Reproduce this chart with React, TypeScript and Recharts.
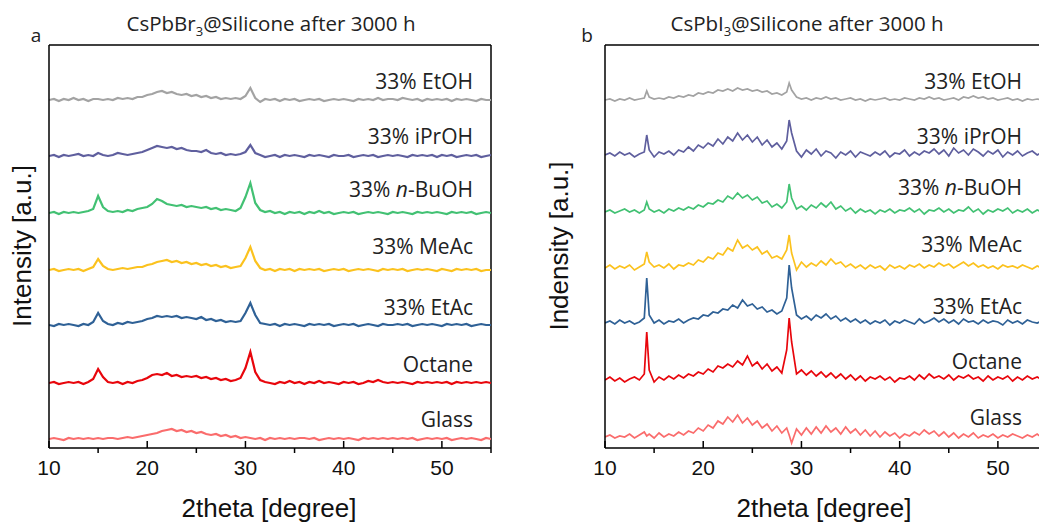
import React from 'react';
import { LineChart, Line, XAxis, YAxis, ReferenceLine } from 'recharts';

// ---------- categories ----------
const X_A = [
  10, 10.5, 11, 11.5, 12, 12.5, 13, 13.5, 14, 14.5,
  15, 15.5, 16, 16.5, 17, 17.5, 18, 18.5, 19, 19.5,
  20, 20.5, 21, 21.5, 22, 22.5, 23, 23.5, 24, 24.5,
  25, 25.5, 26, 26.5, 27, 27.5, 28, 28.5, 29, 29.5,
  30, 30.5, 31, 31.5, 32, 32.5, 33, 33.5, 34, 34.5,
  35, 35.5, 36, 36.5, 37, 37.5, 38, 38.5, 39, 39.5,
  40, 40.5, 41, 41.5, 42, 42.5, 43, 43.5, 44, 44.5,
  45, 45.5, 46, 46.5, 47, 47.5, 48, 48.5, 49, 49.5,
  50, 50.5, 51, 51.5, 52, 52.5, 53, 53.5, 54, 54.5, 55,
];

const X_B = [
  10, 10.5, 11, 11.5, 12, 12.5, 13, 13.5, 14,
  14.25,
  14.5, 15, 15.5, 16, 16.5, 17, 17.5, 18, 18.5, 19, 19.5, 20, 20.5, 21, 21.5,
  22, 22.5, 23, 23.5, 24, 24.5, 25, 25.5, 26, 26.5, 27, 27.5, 28, 28.5,
  28.75,
  29, 29.5, 30, 30.5, 31, 31.5, 32, 32.5, 33, 33.5,
  34, 34.5, 35, 35.5, 36, 36.5, 37, 37.5, 38, 38.5,
  39, 39.5, 40, 40.5, 41, 41.5, 42, 42.5, 43, 43.5,
  44, 44.5, 45, 45.5, 46, 46.5, 47, 47.5, 48, 48.5,
  49, 49.5, 50, 50.5, 51, 51.5, 52, 52.5, 53, 53.5,
  54, 54.5, 55,
];

const X_TICKS = [10, 15, 20, 25, 30, 35, 40, 45, 50, 55];
const X_TICK_LABELS = [10, 20, 30, 40, 50];

const SERIES_NAMES = ['33% EtOH', '33% iPrOH', '33% n-BuOH', '33% MeAc', '33% EtAc', 'Octane', 'Glass'];
const SERIES_COLORS = ['#a3a3a3', '#5f5f9e', '#42c173', '#fbc21e', '#2f6196', '#e8060c', '#fa6c6c'];

// ---------- panel a : CsPbBr3 (intensity above each baseline) ----------
const A_ETOH = [
  0, 1, -1, 1, 0, 2, 0, 1, -1, 1,
  1, 0, 1, 0, 2, 1, 2, 1, 3, 3,
  5, 6, 8, 9, 7, 8, 6, 5, 6, 4,
  5, 3, 4, 2, 3, 1, 2, 1, 2, 1,
  4, 12, 2, -2, 1, 0, 1, -1, 1, 0,
  1, -1, 0, 1, 0, 1, -1, 0, 1, 0,
  1, 0, -1, 1, 0, 1, 0, 2, 0, 1,
  1, 0, 2, 1, 0, 1, -1, 1, 0, 1,
  0, 1, -1, 1, 0, 1, 0, -1, 1, 0, 0,
];
const A_IPROH = [
  0, 1, -1, 1, 0, 1, 2, 0, 1, 0,
  3, 1, 0, 1, 3, 2, 1, 2, 3, 4,
  6, 8, 10, 9, 8, 9, 7, 8, 6, 5,
  5, 4, 6, 3, 2, 3, 1, 2, 1, 2,
  4, 11, 3, 1, -1, 0, 1, -1, 1, 0,
  1, 0, -1, 1, 0, 1, 0, -1, 1, 0,
  0, 1, -1, 0, 1, 0, 1, -1, 0, 1,
  0, 1, 0, -1, 1, 0, 1, 0, 1, -1,
  1, 0, 1, -1, 0, 1, 0, 1, -1, 0, 1,
];
const A_BUOH = [
  0, 1, -1, 1, 0, 1, 0, 1, 2, 4,
  17, 6, 2, 1, 2, 1, 3, 2, 4, 5,
  6, 9, 14, 12, 9, 8, 7, 8, 6, 7,
  6, 5, 6, 4, 5, 3, 4, 3, 2, 5,
  16, 30, 10, 3, 1, 2, 0, 1, -1, 1,
  0, 1, -1, 1, 0, 2, 0, 1, -1, 0,
  1, 0, 1, -1, 0, 1, 0, 1, 0, -1,
  1, 0, 1, 0, -1, 1, 0, 1, 0, 1,
  0, -1, 1, 0, 1, 0, 1, -1, 0, 1, 0,
];
const A_MEAC = [
  0, 1, -1, 0, 1, 0, 1, -1, 1, 3,
  11, 4, 1, 0, 1, 2, 1, 2, 3, 3,
  5, 6, 8, 9, 10, 8, 9, 7, 8, 6,
  7, 5, 6, 4, 5, 3, 4, 2, 3, 4,
  12, 23, 9, 2, 0, 1, -1, 1, 0, 1,
  -1, 1, 0, 1, 0, 1, -1, 0, 1, 0,
  1, -1, 0, 1, 0, 1, 0, -1, 1, 0,
  1, 0, 1, -1, 0, 1, 0, 1, 0, -1,
  1, 0, -1, 1, 0, 1, 0, 1, -1, 0, 0,
];
const A_ETAC = [
  0, -1, 1, 0, 1, 0, -1, 1, 0, 3,
  12, 4, 1, 0, 2, 1, 3, 2, 3, 4,
  6, 7, 9, 8, 9, 8, 9, 7, 8, 7,
  6, 8, 5, 6, 4, 5, 3, 4, 3, 4,
  12, 22, 10, 2, 1, 0, 1, -1, 1, 0,
  1, 0, -1, 1, 0, 1, 0, 1, -1, 0,
  1, 0, 1, -1, 0, 1, 0, -1, 1, 0,
  0, 1, 0, 1, -1, 0, 1, 0, 1, 0,
  -1, 1, 0, 1, 0, 1, -1, 0, 1, 0, 0,
];
const A_OCTANE = [
  0, 1, -1, 0, 1, 0, 1, -1, 1, 4,
  14, 6, 1, 0, 1, -1, 1, 0, 2, 3,
  5, 8, 9, 8, 10, 7, 8, 6, 7, 6,
  7, 5, 6, 4, 5, 3, 4, 2, 3, 5,
  15, 31, 11, 3, 1, 0, -1, 1, 0, 2,
  0, 1, -1, 1, 0, 2, 0, 1, 0, -1,
  1, 0, 1, -1, 0, 2, 1, 3, 1, 0,
  1, 0, 1, 0, -1, 1, 0, 1, 0, 1,
  0, 1, -1, 1, 0, 1, 0, 1, 0, 1, 0,
];
const A_GLASS = [
  0, 1, 0, -1, 1, 0, 1, 0, 1, 0,
  1, 0, 1, 1, 0, 1, 2, 1, 2, 3,
  4, 5, 6, 8, 9, 10, 8, 9, 7, 8,
  6, 7, 5, 4, 5, 3, 4, 2, 3, 1,
  2, 1, 0, 1, -1, 1, 0, 1, 0, 1,
  0, 1, 1, 0, 1, -1, 0, 1, 0, 1,
  0, 1, 0, -1, 1, 0, 1, 0, 1, 0,
  1, 0, 1, 0, 1, -1, 0, 1, 0, 1,
  0, 1, -1, 0, 1, 0, 1, 0, -1, 1, 0,
];

// ---------- panel b : CsPbI3 ----------
const B_ETOH = [
  0, 1, -1, 1, 0, 2, 0, 1, 2,
  9,
  3, 1, 2, 1, 3, 2, 4, 3, 5, 4, 7, 6, 8, 7, 10, 9, 11, 9, 12, 10, 11, 9, 10, 8, 9, 6, 7, 5, 8,
  17,
  10, 3, 1, 2, 0, 2, 1, 3, 1, 2,
  0, 1, 2, 0, 1, -1, 1, 0, 1, 2,
  0, 1, 0, 2, 1, 0, 2, 1, 3, 1,
  2, 0, 1, 2, 0, 3, 2, 4, 2, 3,
  1, 2, 0, 1, 2, 0, 1, -1, 1, 0,
  1, 0, 1,
];
const B_IPROH = [
  0, 2, -1, 3, 0, 2, -2, 1, 3,
  20,
  5, -2, 3, 1, 4, 0, 5, 3, 8, 4, 10, 7, 12, 9, 16, 11, 18, 14, 22, 15, 20, 13, 18, 10, 15, 8, 12, 6, 14,
  35,
  22, 4, -2, 5, 1, 6, -1, 4, 2, -3,
  3, 0, 4, -2, 3, 1, -1, 3, 0, 4,
  -2, 2, 1, 5, -1, 3, 0, 4, 2, 6,
  1, 5, -1, 7, 2, 5, 0, 6, 3, -1,
  4, 1, 5, -2, 3, 0, 4, -1, 2, 4,
  0, 3, 1,
];
const B_BUOH = [
  0, 2, -1, 1, 3, 0, 2, -1, 2,
  10,
  3, 0, 2, -1, 3, 1, 4, 2, 5, 3, 7, 5, 9, 8, 12, 10, 16, 13, 19, 14, 17, 12, 15, 9, 11, 5, 8, 4, 10,
  28,
  14, 3, 6, 2, 7, 4, 9, 5, 10, 3,
  6, 1, 4, -1, 3, 0, 2, -2, 2, 0,
  3, -1, 2, 1, 4, 0, 3, -2, 2, 1,
  4, 0, 3, -1, 2, 1, 5, 0, 3, -2,
  2, 0, 3, 1, 4, -1, 2, 0, 3, -1,
  2, 0, 1,
];
const B_MEAC = [
  0, 3, -1, 2, 0, 3, -2, 1, 4,
  16,
  6, 1, 3, 0, 4, -1, 3, 2, 5, 3, 8, 6, 11, 9, 15, 13, 20, 17, 28, 20, 23, 18, 21, 14, 17, 10, 12, 9, 18,
  33,
  15, -2, 6, 1, 5, 2, 7, 3, 9, 4,
  6, 1, 4, 0, 3, -1, 3, 0, 2, -2,
  3, 0, 2, -1, 3, 1, 4, 0, 3, 1,
  5, 2, 4, 0, 3, 6, 2, 5, 1, 3,
  0, 2, -1, 3, 1, 2, 0, 3, 1, -1,
  2, 0, 1,
];
const B_ETAC = [
  0, 2, -1, 3, 0, 2, -1, 1, 5,
  45,
  8, 0, 3, -1, 2, 1, 4, 0, 3, 5, 4, 8, 7, 11, 10, 14, 13, 18, 15, 23, 17, 19, 14, 16, 11, 13, 9, 12, 25,
  58,
  35, 8, 4, 7, 3, 8, 5, 9, 4, 7,
  2, 5, 1, 4, 0, 3, -1, 2, 0, 3,
  -2, 2, 0, 3, 1, -1, 4, 0, 2, 5,
  1, 4, 0, 3, -1, 4, 1, 2, -1, 3,
  0, 2, 1, -2, 3, 0, 2, -1, 3, 1,
  0, 2, 1,
];
const B_OCTANE = [
  0, 3, -1, 2, -2, 1, 3, 0, 6,
  48,
  10, -2, 3, 0, 4, 1, 5, 2, 6, 4, 8, 6, 11, 8, 14, 12, 16, 13, 19, 15, 24, 14, 18, 11, 16, 9, 13, 7, 30,
  62,
  38, 6, 10, 5, 9, 4, 8, 3, 7, 2,
  6, 1, 5, 0, 4, -1, 3, 1, 4, 0,
  3, -2, 2, 1, 4, 0, 5, 1, 6, 2,
  4, 1, 5, 0, 4, 2, 5, 1, 3, -1,
  4, 0, 3, 1, 4, -1, 3, 0, 4, 1,
  3, 0, 2,
];
const B_GLASS = [
  0, 2, -1, 1, 0, 3, -1, 2, 5,
  1,
  3, -1, 4, 0, 3, 1, 5, 2, 6, 4, 9, 6, 12, 9, 16, 13, 20, 15, 22, 14, 19, 12, 16, 9, 13, 6, 11, 4, 9,
  2,
  -6, 8, 2, 9, 3, 10, 4, 11, 5, 9,
  3, 10, 4, 8, 2, 7, 1, 6, 0, 5,
  1, 4, -1, 3, 1, 5, 2, 7, 3, 6,
  1, 5, 0, 4, -1, 3, 0, 4, -1, 2,
  0, 3, -1, 2, 0, 3, 1, -1, 2, 0,
  3, -1, 1,
];

// ---------- layout (stacking offsets, in plot units) ----------
const OFFSETS_A = [348, 292, 235, 178, 123, 65, 9];
const OFFSETS_B = [348, 293, 236, 180, 125, 68, 11];
const LABEL_Y_A = [82, 137, 190, 247, 308, 365, 420];
const LABEL_Y_B = [82, 137, 188, 245, 307, 362, 418];

const buildRows = (xs: number[], series: number[][], offsets: number[]) =>
  xs.map((x, i) => {
    const row: Record<string, number> = { x };
    series.forEach((s, k) => {
      row['s' + k] = s[i] + offsets[k];
    });
    return row;
  });

const ROWS_A = buildRows(X_A, [A_ETOH, A_IPROH, A_BUOH, A_MEAC, A_ETAC, A_OCTANE, A_GLASS], OFFSETS_A);
const ROWS_B = buildRows(X_B, [B_ETOH, B_IPROH, B_BUOH, B_MEAC, B_ETAC, B_OCTANE, B_GLASS], OFFSETS_B);

const AXIS_FONT = '"Liberation Sans", Arial, sans-serif';
const LABEL_FONT = '"Open Sans", "Noto Sans", sans-serif';

const XTick = (props: any) => {
  const { x, y, payload } = props;
  const v = payload.value;
  const major = v % 10 === 0;
  return (
    <g>
      {major ? (
        <line x1={x} y1={y} x2={x} y2={y - 7} stroke="#000" strokeWidth={1.5} />
      ) : (
        <line x1={x} y1={y} x2={x} y2={y + 5} stroke="#000" strokeWidth={1.5} />
      )}
      {X_TICK_LABELS.includes(v) && (
        <text x={x} y={y + 27} textAnchor="middle" fontFamily={AXIS_FONT} fontSize={21} fill="#111">
          {v}
        </text>
      )}
    </g>
  );
};

const Panel = ({ rows, lineWidth }: { rows: any[]; lineWidth: number }) => (
  <LineChart width={520} height={526} data={rows} margin={{ top: 45, right: 29, bottom: 48, left: 39 }}>
    <XAxis
      dataKey="x"
      type="number"
      domain={[10, 55]}
      ticks={X_TICKS}
      height={30}
      tickSize={0}
      tickMargin={0}
      tickLine={false}
      tick={<XTick />}
      axisLine={{ stroke: '#000', strokeWidth: 1.5 }}
      interval={0}
      allowDataOverflow
    />
    <YAxis
      type="number"
      domain={[0, 403]}
      width={10}
      tick={false}
      tickLine={false}
      axisLine={{ stroke: '#000', strokeWidth: 1.5 }}
      allowDataOverflow
    />
    <ReferenceLine y={403} stroke="#000" strokeWidth={1.5} ifOverflow="visible" />
    <ReferenceLine x={55} stroke="#000" strokeWidth={1.5} ifOverflow="visible" />
    {SERIES_COLORS.map((c, k) => (
      <Line
        key={k}
        type="linear"
        dataKey={'s' + k}
        stroke={c}
        strokeWidth={lineWidth}
        strokeLinejoin="miter"
        dot={false}
        activeDot={false}
        isAnimationActive={false}
      />
    ))}
  </LineChart>
);

export default function App() {
  return (
    <div style={{ position: 'relative', width: 1039, height: 526, overflow: 'hidden', background: '#fff' }}>
      <style>{'body{margin:0;overflow:hidden;background:#fff}'}</style>
      <div style={{ position: 'absolute', left: 0, top: 0 }}>
        <Panel rows={ROWS_A} lineWidth={2.2} />
      </div>
      <div style={{ position: 'absolute', left: 556, top: 0 }}>
        <Panel rows={ROWS_B} lineWidth={1.7} />
      </div>
      <svg
        width={1039}
        height={526}
        style={{ position: 'absolute', left: 0, top: 0, pointerEvents: 'none' }}
      >
        {/* panel letters */}
        <text x={36} y={42} textAnchor="middle" fontFamily={LABEL_FONT} fontSize={19} fill="#222">a</text>
        <text x={587} y={42} textAnchor="middle" fontFamily={LABEL_FONT} fontSize={19} fill="#222">b</text>
        {/* titles */}
        <text x={271} y={31} textAnchor="middle" fontFamily={LABEL_FONT} fontSize={20.5} fill="#222">
          CsPbBr<tspan fontSize={13} dy={5}>3</tspan>
          <tspan dy={-5}>@Silicone after 3000 h</tspan>
        </text>
        <text x={807} y={31} textAnchor="middle" fontFamily={LABEL_FONT} fontSize={20.5} fill="#222">
          CsPbI<tspan fontSize={13} dy={5}>3</tspan>
          <tspan dy={-5}>@Silicone after 3000 h</tspan>
        </text>
        {/* axis titles */}
        <text x={269} y={517} textAnchor="middle" fontFamily={AXIS_FONT} fontSize={26} fill="#111">2theta [degree]</text>
        <text x={824} y={517} textAnchor="middle" fontFamily={AXIS_FONT} fontSize={26} fill="#111">2theta [degree]</text>
        <text x={31} y={246} textAnchor="middle" fontFamily={AXIS_FONT} fontSize={26} fill="#111" transform="rotate(-90 31 246)">
          Intensity [a.u.]
        </text>
        <text x={568} y={246} textAnchor="middle" fontFamily={AXIS_FONT} fontSize={26} fill="#111" transform="rotate(-90 568 246)">
          Indensity [a.u.]
        </text>
        {/* series labels */}
        {SERIES_NAMES.map((n, k) => (
          <text key={'a' + k} x={473} y={LABEL_Y_A[k] + 7} textAnchor="end" fontFamily={LABEL_FONT} fontSize={21} fill="#222">
            {k === 2 ? (<>33% <tspan fontStyle="italic">n</tspan>-BuOH</>) : n}
          </text>
        ))}
        {SERIES_NAMES.map((n, k) => (
          <text key={'b' + k} x={1022} y={LABEL_Y_B[k] + 7} textAnchor="end" fontFamily={LABEL_FONT} fontSize={21} fill="#222">
            {k === 2 ? (<>33% <tspan fontStyle="italic">n</tspan>-BuOH</>) : n}
          </text>
        ))}
      </svg>
    </div>
  );
}
